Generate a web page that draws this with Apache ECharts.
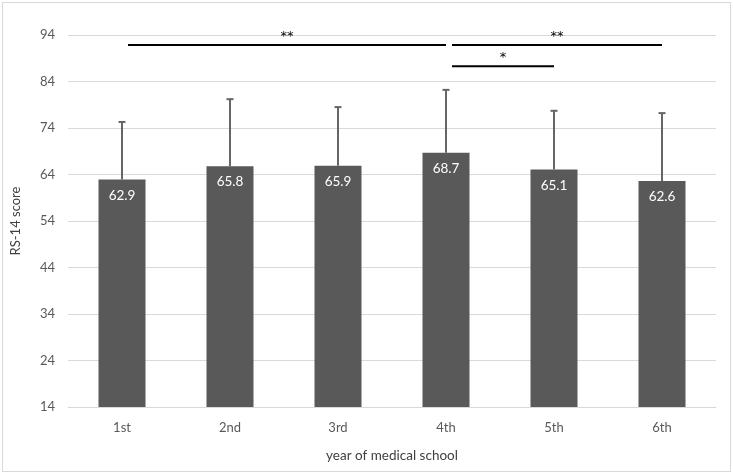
<!DOCTYPE html>
<html><head><meta charset="utf-8">
<script src="https://cdn.jsdelivr.net/npm/echarts@6/dist/echarts.min.js"></script>
<style>
html,body{margin:0;padding:0;background:#fff;}
#frame{position:absolute;left:2px;top:2px;width:727px;height:468px;border:1px solid #d9d9d9;}
#c{position:absolute;left:0;top:0;width:733px;height:475px;}
</style></head>
<body><div id="frame"></div><div id="c"></div>
<script>
const categories = ['1st','2nd','3rd','4th','5th','6th'];
const means = [62.9, 65.8, 65.9, 68.7, 65.1, 62.6];
const errorTops = [75.3, 80.2, 78.5, 82.2, 77.7, 77.2];
const yTickLabels = ['14','24','34','44','54','64','74','84','94'];
// significance brackets: [fromCategory, toCategory, level, label]
const sigFrom = [0, 3, 3];
const sigTo = [3, 5, 4];
const sigLevel = [91.85, 91.85, 87.3];
const sigLabel = ['**', '**', '*'];

const font = 'Lato, "Liberation Sans", sans-serif';
const chart = echarts.init(document.getElementById('c'));
const errData = categories.map((c,i)=>[i, means[i], errorTops[i]]);
const sigData = sigFrom.map((f,i)=>[f, sigTo[i], sigLevel[i], i]);

chart.setOption({
  animation:false,
  grid:{left:68,right:17,top:35,bottom:68},
  xAxis:{type:'category',data:categories,
    axisLine:{lineStyle:{color:'#d9d9d9'}},axisTick:{show:false},
    axisLabel:{color:'#595959',fontSize:13,fontFamily:font,margin:14},
    name:'year of medical school',nameLocation:'middle',nameGap:42,
    nameTextStyle:{color:'#404040',fontSize:13.5,fontFamily:font}},
  yAxis:[
    {type:'value',min:14,max:94,show:false,splitLine:{show:false}},
    {type:'value',min:0,max:80,interval:10,position:'left',
     axisLine:{show:false},axisTick:{show:false},
     axisLabel:{color:'#595959',fontSize:13,fontFamily:font,margin:13,
       formatter:(v)=>yTickLabels[Math.round(v/10)]},
     splitLine:{lineStyle:{color:'#d9d9d9',width:1}},
     name:'RS-14 score',nameLocation:'middle',nameGap:46,nameRotate:90,
     nameTextStyle:{color:'#404040',fontSize:13,fontFamily:font}}
  ],
  series:[
    {type:'bar',data:means,yAxisIndex:0,barWidth:47,
     itemStyle:{color:'#595959'},
     label:{show:true,position:'insideTop',distance:9,color:'#fff',fontSize:13.5,fontFamily:font,
       formatter:(p)=>p.value.toFixed(1)}},
    {type:'custom',yAxisIndex:0,data:errData,z:3,
     renderItem:(params,api)=>{
       const b=api.coord([api.value(0),api.value(1)]);
       const t=api.coord([api.value(0),api.value(2)]);
       const st={stroke:'#666',lineWidth:2};
       return {type:'group',children:[
         {type:'line',shape:{x1:b[0],y1:b[1],x2:t[0],y2:t[1]},style:st},
         {type:'line',shape:{x1:t[0]-3.5,y1:t[1],x2:t[0]+3.5,y2:t[1]},style:st}
       ]};
     }},
    {type:'custom',yAxisIndex:0,data:sigData,z:4,
     renderItem:(params,api)=>{
       const a=api.coord([api.value(0),api.value(2)]);
       const b=api.coord([api.value(1),api.value(2)]);
       const x1=a[0]+6, x2=b[0];
       const idx=api.value(3);
       return {type:'group',children:[
         {type:'line',shape:{x1:x1,y1:a[1],x2:x2,y2:a[1]},style:{stroke:'#000',lineWidth:2}},
         {type:'text',x:(x1+x2)/2,y:a[1]-2,style:{text:sigLabel[idx],fill:'#000',
           font:'13px "DejaVu Sans", sans-serif',align:'center',verticalAlign:'bottom'}}
       ]};
     }}
  ]
});
</script></body></html>
